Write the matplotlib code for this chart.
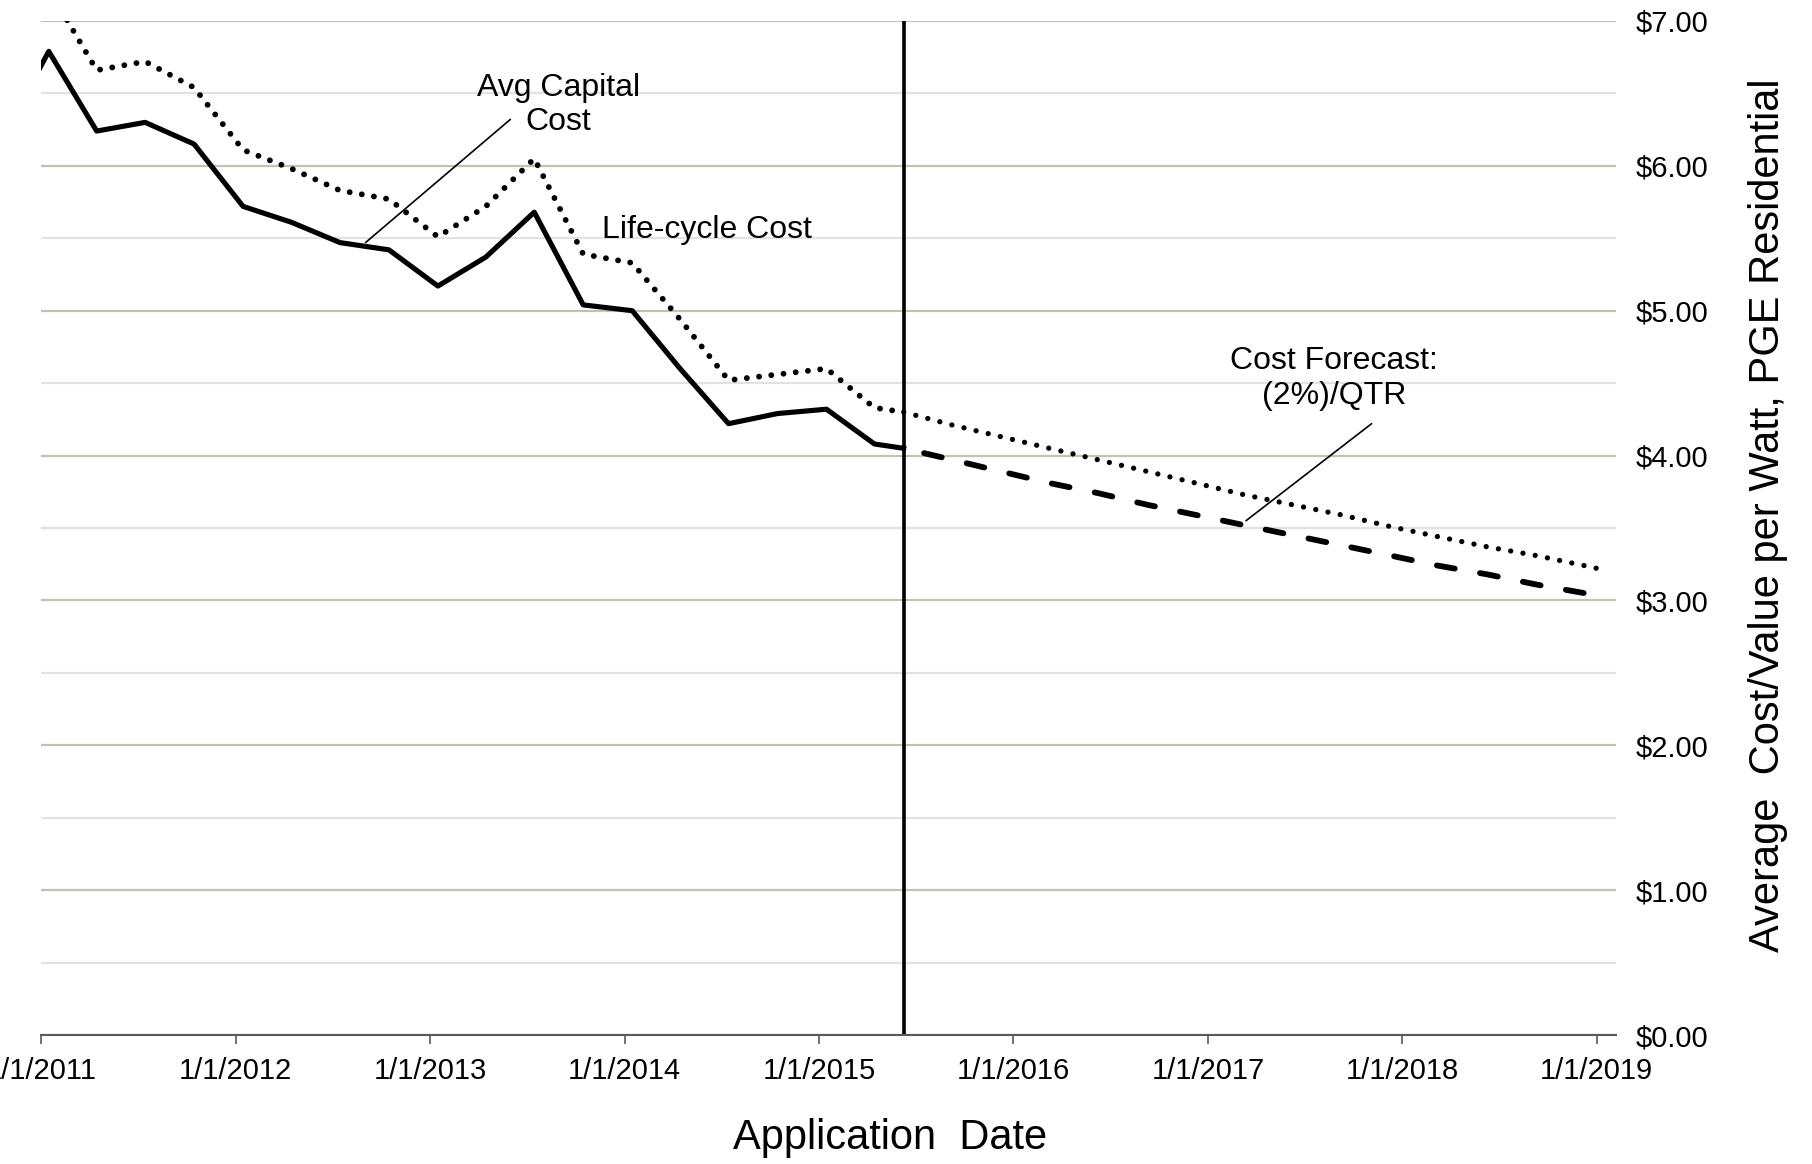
import matplotlib
matplotlib.use('Agg')
import matplotlib.pyplot as plt
import matplotlib.dates as mdates
from matplotlib.ticker import MultipleLocator, FuncFormatter
import pandas as pd

plt.rcParams['font.family'] = ['Liberation Sans', 'DejaVu Sans']

# quarterly actuals ($/W)
hist_dates = pd.to_datetime([
    '2010-10-15', '2011-01-15', '2011-04-15', '2011-07-15', '2011-10-15',
    '2012-01-15', '2012-04-15', '2012-07-15', '2012-10-15',
    '2013-01-15', '2013-04-15', '2013-07-15', '2013-10-15',
    '2014-01-15', '2014-04-15', '2014-07-15', '2014-10-15',
    '2015-01-15', '2015-04-15', '2015-06-09'])
capital_cost = [6.16, 6.79, 6.24, 6.30, 6.15,
                5.72, 5.61, 5.47, 5.42,
                5.17, 5.37, 5.68, 5.04,
                5.00, 4.60, 4.22, 4.29,
                4.32, 4.08, 4.05]
lifecycle_cost = [6.56, 7.22, 6.66, 6.72, 6.54,
                  6.11, 5.98, 5.83, 5.77,
                  5.51, 5.72, 6.05, 5.39,
                  5.33, 4.94, 4.52, 4.56,
                  4.60, 4.33, 4.30]

# forecast, (2%)/QTR
fc_dates = pd.to_datetime([
    '2015-06-09', '2015-09-09', '2015-12-09', '2016-03-09', '2016-06-09',
    '2016-09-09', '2016-12-09', '2017-03-09', '2017-06-09', '2017-09-09',
    '2017-12-09', '2018-03-09', '2018-06-09', '2018-09-09', '2018-12-09',
    '2019-01-15'])
capital_fc = [4.05, 3.97, 3.89, 3.81, 3.74, 3.66, 3.59, 3.52, 3.45, 3.38,
              3.31, 3.24, 3.18, 3.11, 3.05, 3.02]
lifecycle_fc = [4.30, 4.21, 4.13, 4.05, 3.97, 3.89, 3.81, 3.73, 3.66, 3.59,
                3.51, 3.44, 3.37, 3.31, 3.24, 3.21]

today = pd.Timestamp('2015-06-09')

fig = plt.figure(figsize=(18.12, 11.64), dpi=100)
ax = fig.add_axes([0.0228, 0.1108, 0.8690, 0.8712])

# lines
ax.plot(hist_dates, capital_cost, color='black', lw=3.7)
ax.plot(hist_dates, lifecycle_cost, color='black', lw=4.2,
        linestyle=(0, (0.01, 2.1)), dash_capstyle='round')
ax.plot(fc_dates, capital_fc, color='black', lw=4.2,
        linestyle=(3.9, (3.1, 4.4)), dash_capstyle='round')
ax.plot(fc_dates, lifecycle_fc, color='black', lw=3.8,
        linestyle=(0, (0.01, 2.35)), dash_capstyle='round')
ax.axvline(today, color='black', lw=2.6)

# axes setup
ax.set_xlim(pd.Timestamp('2011-01-01'), pd.Timestamp('2019-02-06'))
ax.set_ylim(0, 7)
ax.xaxis.set_major_locator(mdates.YearLocator())
ax.xaxis.set_major_formatter(FuncFormatter(
    lambda v, p: '{d.month}/{d.day}/{d.year}'.format(d=mdates.num2date(v))))
ax.yaxis.set_major_locator(MultipleLocator(1))
ax.yaxis.set_minor_locator(MultipleLocator(0.5))
ax.yaxis.set_major_formatter(FuncFormatter(lambda v, p: '${:.2f}'.format(v)))
ax.yaxis.tick_right()

ax.set_axisbelow(True)
ax.grid(which='major', axis='y', color='#c2c2b4', lw=1.6)
ax.grid(which='minor', axis='y', color='#e2e2de', lw=1.6)

for s in ['top', 'left', 'right']:
    ax.spines[s].set_visible(False)
ax.spines['bottom'].set_color('#595959')
ax.spines['bottom'].set_linewidth(1.5)

ax.tick_params(axis='y', which='both', length=0, pad=14.4, labelsize=21)
ax.tick_params(axis='x', length=6.5, width=1.2, color='#595959', pad=9,
               labelsize=21)

# annotations
ax.text(pd.Timestamp('2013-08-30'), 6.42, 'Avg Capital\nCost', fontsize=23,
        ha='center', va='center', multialignment='center')
ax.annotate('', xy=(pd.Timestamp('2012-09-01'), 5.47),
            xytext=(pd.Timestamp('2013-05-31'), 6.32),
            arrowprops=dict(arrowstyle='-', color='black', lw=1.2,
                            shrinkA=0, shrinkB=0))
ax.text(pd.Timestamp('2013-11-20'), 5.50, 'Life-cycle Cost', fontsize=23,
        ha='left', va='baseline')
ax.text(pd.Timestamp('2017-08-25'), 4.53, 'Cost Forecast:\n(2%)/QTR',
        fontsize=23, ha='center', va='center', multialignment='center')
ax.annotate('', xy=(pd.Timestamp('2017-03-13'), 3.55),
            xytext=(pd.Timestamp('2017-11-04'), 4.22),
            arrowprops=dict(arrowstyle='-', color='black', lw=1.2,
                            shrinkA=0, shrinkB=0))

# axis titles
fig.text(0.4912, 0.0126, 'Application  Date', fontsize=30,
         ha='center', va='baseline')
fig.text(0.9757, 0.557, 'Average  Cost/Value per Watt, PGE Residential',
         fontsize=30, rotation=90, ha='center', va='center')

fig.savefig('out.png', dpi=100)
